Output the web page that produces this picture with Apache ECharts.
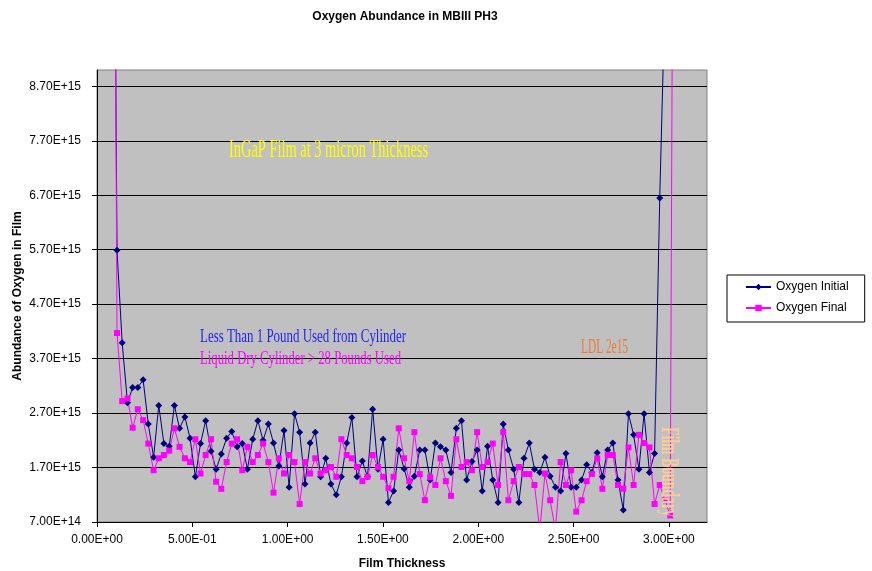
<!DOCTYPE html>
<html><head><meta charset="utf-8">
<script src="https://cdn.jsdelivr.net/npm/echarts@6/dist/echarts.min.js"></script>
<style>html,body{margin:0;padding:0;background:#fff}#c{width:872px;height:571px}</style>
</head><body><div id="c"></div>
<script>
// Film thickness sample positions
const thickness = [0.078,0.105,0.132,0.160,0.187,0.214,0.242,0.269,0.297,0.324,
0.351,0.379,0.406,0.433,0.461,0.488,0.516,0.543,0.570,0.598,
0.625,0.652,0.680,0.707,0.735,0.762,0.789,0.817,0.844,0.871,
0.899,0.926,0.954,0.981,1.008,1.036,1.063,1.091,1.118,1.145,
1.173,1.200,1.227,1.255,1.282,1.310,1.337,1.364,1.392,1.419,
1.446,1.474,1.501,1.529,1.556,1.583,1.611,1.638,1.665,1.693,
1.720,1.748,1.775,1.802,1.830,1.857,1.885,1.912,1.939,1.967,
1.994,2.021,2.049,2.076,2.104,2.131,2.158,2.186,2.213,2.240,
2.268,2.295,2.323,2.350,2.377,2.405,2.432,2.460,2.487,2.514,
2.542,2.569,2.596,2.624,2.651,2.679,2.706,2.733,2.761,2.788,
2.815,2.843,2.870,2.898,2.925,2.952,2.980,3.007,3.034];
// Oxygen abundance, in units of 1E+15
const oxygenInitial = [19,5.69,3.99,2.89,3.17,3.17,3.31,2.50,1.89,2.84,
2.14,2.09,2.84,2.42,2.63,2.24,1.53,2.14,2.56,2.00,
1.67,1.95,2.24,2.36,2.08,2.14,1.67,2.22,2.56,2.20,
2.50,2.15,1.73,2.38,1.34,2.69,2.35,1.40,2.15,2.35,
1.53,1.87,1.40,1.20,1.53,2.15,2.62,1.53,1.82,1.53,
2.77,1.67,2.22,1.06,1.27,2.02,1.68,1.34,1.54,2.02,
2.02,1.47,2.15,2.08,2.02,1.61,2.42,2.56,1.47,1.81,
2.02,1.27,2.09,1.47,1.06,2.50,2.02,1.67,1.06,1.87,
2.15,1.67,1.61,1.89,1.54,1.34,1.27,1.96,1.34,1.34,
1.47,1.75,1.61,1.97,1.53,2.02,2.15,1.47,0.92,2.69,
2.30,1.67,2.69,1.61,1.96,6.65,10.4];
const oxygenFinal = [23,4.17,2.92,2.97,2.43,2.77,2.57,2.14,1.65,1.87,
1.93,2.01,2.42,2.08,1.87,1.80,2.22,1.59,1.93,2.22,
1.44,1.31,1.80,2.14,2.22,1.65,2.08,1.80,1.93,2.14,
1.80,1.24,1.87,1.59,1.93,1.80,1.03,1.80,1.59,1.87,
1.59,1.65,1.71,1.53,2.22,1.93,1.87,1.71,1.45,1.53,
1.93,1.71,1.53,1.32,1.53,2.42,1.87,1.45,2.35,1.58,
1.10,1.52,1.38,1.87,1.45,1.18,2.22,1.71,1.80,1.65,
2.35,1.71,1.80,2.14,1.38,2.35,1.10,1.45,1.71,1.58,
1.58,1.38,0.55,1.59,1.10,0.55,1.80,1.38,1.65,0.89,
1.10,1.45,1.58,1.87,1.31,1.93,1.93,1.38,1.31,2.07,
1.38,2.30,2.15,2.07,1.03,1.38,1.10,0.82,23];
const xTickValues = [0,0.5,1.0,1.5,2.0,2.5,3.0];
const yTickValues = [0.7e15,1.7e15,2.7e15,3.7e15,4.7e15,5.7e15,6.7e15,7.7e15,8.7e15];
const seriesNames = ['Oxygen Initial','Oxygen Final'];
const titleText = 'Oxygen Abundance in MBIII PH3';

function sci(v){
  if (Math.abs(v) < 1e-12) return '0.00E+00';
  let e = Math.floor(Math.log10(Math.abs(v)));
  let m = v / Math.pow(10, e);
  m = Math.round(m * 100) / 100;
  if (m >= 10) { m /= 10; e += 1; }
  return m.toFixed(2) + 'E' + (e < 0 ? '-' : '+') + String(Math.abs(e)).padStart(2, '0');
}
const E15 = 1e15;
const initialData = oxygenInitial.map((v, i) => [thickness[i], v * E15]);
const finalData = oxygenFinal.map((v, i) => [thickness[i], v * E15]);

const mctx = document.createElement('canvas').getContext('2d');
function fitScale(text, font, width){ mctx.font = font; return width / mctx.measureText(text).width; }
const serif = '"Liberation Serif", "Times New Roman", serif';
function note(text, x, y, size, color, width, rot, weight){
  const font = (weight ? weight + ' ' : '') + size + 'px ' + serif;
  const el = {
    type: 'text', x: x, y: y, z: 100, scaleX: fitScale(text, font, width),
    style: { text: text, font: font, fill: color, textAlign: rot ? 'center' : 'left', textVerticalAlign: 'middle',
      shadowColor: 'rgba(110,110,110,0.75)', shadowOffsetX: 1.5, shadowOffsetY: 1.5, shadowBlur: 0 }
  };
  if (rot) el.rotation = rot;
  return el;
}

const chart = echarts.init(document.getElementById('c'));
chart.setOption({
  animation: false,
  grid: { left: 97, right: 165, top: 70, bottom: 49, show: true, backgroundColor: '#C0C0C0', borderColor: '#808080', borderWidth: 1, containLabel: false, outerBoundsMode: 'none' },
  xAxis: {
    type: 'value', min: 0, max: 3.2, interval: 0.5,
    axisLine: { onZero: false, lineStyle: { color: '#000', width: 1 } },
    axisTick: { show: true, length: 5, customValues: xTickValues, lineStyle: { color: '#000' } },
    axisLabel: { customValues: xTickValues, formatter: sci, margin: 12, color: '#000', fontSize: 12, fontFamily: 'Liberation Sans' },
    splitLine: { show: false },
    name: 'Film Thickness', nameLocation: 'middle', nameGap: 36, nameMoveOverlap: false,
    nameTextStyle: { fontWeight: 'bold', fontSize: 12, color: '#000', fontFamily: 'Liberation Sans' }
  },
  yAxis: {
    type: 'value', min: 0.7e15, max: 9e15, interval: 1e15,
    axisLine: { show: true, onZero: false, lineStyle: { color: '#000', width: 1 } },
    axisTick: { show: true, length: 5, customValues: yTickValues, lineStyle: { color: '#000' } },
    axisLabel: { customValues: yTickValues, formatter: sci, margin: 16, color: '#000', fontSize: 12, fontFamily: 'Liberation Sans' },
    splitLine: { show: true, lineStyle: { color: '#000', width: 1 } },
    name: 'Abundance of Oxygen in Film', nameLocation: 'middle', nameGap: 73, nameMoveOverlap: false,
    nameTextStyle: { fontWeight: 'bold', fontSize: 12, color: '#000', fontFamily: 'Liberation Sans' }
  },
  legend: {
    orient: 'vertical', left: 727, top: 275, data: seriesNames,
    backgroundColor: '#fff', borderColor: '#000', borderWidth: 1, borderRadius: 0,
    padding: [6, 16, 8, 18], itemWidth: 25, itemHeight: 8, itemGap: 9,
    textStyle: { fontSize: 12, color: '#000', fontFamily: 'Liberation Sans' }
  },
  series: [
    { name: seriesNames[0], type: 'line', data: initialData, symbol: 'diamond', symbolSize: 7, clip: true,
      itemStyle: { color: '#000080' }, lineStyle: { color: '#000080', width: 1 } },
    { name: seriesNames[1], type: 'line', data: finalData, symbol: 'rect', symbolSize: 6, clip: true,
      itemStyle: { color: '#FF00FF' }, lineStyle: { color: '#FF00FF', width: 1 } }
  ],
  graphic: [
    { type: 'text', x: 405, y: 17, z: 100, style: { text: titleText, font: 'bold 12px "Liberation Sans"', fill: '#000', textAlign: 'center', textVerticalAlign: 'middle' } },
    note('InGaP Film at 3 micron Thickness', 229, 150, 25, '#FFFF00', 199),
    note('Less Than 1 Pound Used from Cylinder', 200, 337, 18, '#2424F0', 206),
    note('Liquid Dry Cylinder > 28 Pounds Used', 200, 359, 18, '#FF00FF', 201),
    note('LDL 2e15', 581, 348, 20, '#EE7A33', 47),
    note('Film Boundary', 668.5, 472, 25, '#FFCC99', 90, -Math.PI / 2, 'bold')
  ]
});
</script></body></html>
